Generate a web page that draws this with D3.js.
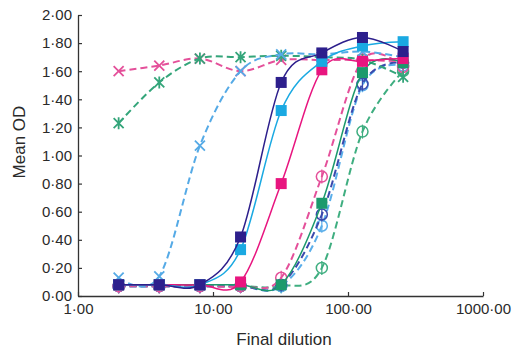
<!DOCTYPE html>
<html>
<head>
<meta charset="utf-8">
<script src="https://cdn.jsdelivr.net/npm/d3@7"></script>
<style>
  body { margin: 0; background: #fff; }
  svg { font-family: "Liberation Sans", Arial, sans-serif; }
</style>
</head>
<body>
<svg id="chart" width="525" height="350"></svg>
<script>
// dilution steps shared by all series
const dilutions = [2, 4, 8, 16, 32, 64, 128, 256];

// solid lines, filled squares
const navySquares = [0.08, 0.08, 0.08, 0.42, 1.52, 1.73, 1.84, 1.74];
const cyanSquares = [0.08, 0.08, 0.08, 0.33, 1.32, 1.67, 1.78, 1.81];
const pinkSquares = [0.08, 0.08, 0.08, 0.10, 0.80, 1.61, 1.67, 1.69];
const greenSquares = [0.08, 0.08, 0.08, 0.08, 0.08, 0.66, 1.59, 1.66];

// dashed lines, open circles
const pinkCircles = [0.07, 0.07, 0.07, 0.07, 0.13, 0.85, 1.68, 1.63];
const navyCircles = [0.07, 0.07, 0.07, 0.07, 0.08, 0.58, 1.51, 1.66];
const blueCircles = [0.07, 0.07, 0.07, 0.07, 0.07, 0.50, 1.50, 1.64];
const greenCircles = [0.07, 0.07, 0.07, 0.07, 0.07, 0.20, 1.17, 1.60];

// dashed lines, crosses
const pinkCrosses = [1.60, 1.64, 1.69, 1.60, 1.68, 1.68, 1.68, 1.67];
const greenStars = [1.23, 1.52, 1.69, 1.70, 1.71, 1.70, 1.68, 1.56];
const blueCrosses = [0.13, 0.14, 1.07, 1.60, 1.72, 1.72, 1.74, 1.70];

const yTicks = [0, 0.2, 0.4, 0.6, 0.8, 1.0, 1.2, 1.4, 1.6, 1.8, 2.0];
const xTicks = [1, 10, 100, 1000];

const series = [
  { values: greenCircles, color: "#3fae80", dash: true, marker: "circle" },
  { values: blueCircles, color: "#5aaeea", dash: true, marker: "circle" },
  { values: navyCircles, color: "#3a49ad", dash: true, marker: "circle" },
  { values: pinkCircles, color: "#e4509a", dash: true, marker: "circle" },
  { values: pinkCrosses, color: "#e4509a", dash: true, marker: "cross" },
  { values: greenStars, color: "#34a57a", dash: true, marker: "star" },
  { values: blueCrosses, color: "#55aae6", dash: true, marker: "cross" },
  { values: greenSquares, color: "#1c9a6c", dash: false, marker: "square" },
  { values: pinkSquares, color: "#e8157f", dash: false, marker: "square" },
  { values: cyanSquares, color: "#1aa9e2", dash: false, marker: "square" },
  { values: navySquares, color: "#2d1f8c", dash: false, marker: "square" }
];

const svg = d3.select("#chart");
const x = d3.scaleLog().domain([1, 1000]).range([78, 483]);
const y = d3.scaleLinear().domain([0, 2]).range([296, 15]);
const fmt = (d) => d3.format(".2f")(d).replace(".", "·");

// axes
const yAxis = svg.append("g")
  .attr("transform", `translate(${x(1)},0)`)
  .call(d3.axisLeft(y).tickValues(yTicks).tickFormat(fmt).tickSizeInner(-4).tickSizeOuter(0).tickPadding(6));
const xAxis = svg.append("g")
  .attr("transform", `translate(0,${y(0)})`)
  .call(d3.axisBottom(x).tickValues(xTicks).tickFormat(fmt).tickSizeInner(-4).tickSizeOuter(0).tickPadding(7));
[yAxis, xAxis].forEach((g) => {
  g.select(".domain").attr("stroke", "#333").attr("stroke-width", 1.3);
  g.selectAll(".tick line").attr("stroke", "#333").attr("stroke-width", 1.2);
  g.selectAll("text").attr("fill", "#2a2a2a").style("font-size", "15px");
});
xAxis.selectAll("text").attr("dy", "0.75em");

svg.append("text")
  .attr("transform", "translate(25,142) rotate(-90)")
  .attr("text-anchor", "middle")
  .attr("fill", "#2a2a2a")
  .style("font-size", "17px")
  .text("Mean OD");

svg.append("text")
  .attr("x", 284)
  .attr("y", 345)
  .attr("text-anchor", "middle")
  .attr("fill", "#2a2a2a")
  .style("font-size", "17px")
  .text("Final dilution");

// smoothed lines like a spreadsheet chart
const line = d3.line()
  .x((d) => x(d[0]))
  .y((d) => y(d[1]))
  .curve(d3.curveCardinal.tension(0));

series.forEach((s) => {
  const pts = dilutions.map((d, i) => [d, s.values[i]]);
  const g = svg.append("g");
  g.append("path")
    .attr("d", line(pts))
    .attr("fill", "none")
    .attr("stroke", s.color)
    .attr("stroke-width", s.dash ? 2 : 1.5)
    .attr("stroke-dasharray", s.dash ? "7,4" : null);

  const m = g.selectAll("g.mark")
    .data(pts)
    .join("g")
    .attr("class", "mark")
    .attr("transform", (d) => `translate(${x(d[0])},${y(d[1])})`);

  if (s.marker === "square") {
    m.append("rect")
      .attr("x", -5.5).attr("y", -5.5).attr("width", 11).attr("height", 11)
      .attr("fill", s.color);
  } else if (s.marker === "circle") {
    m.append("circle").attr("r", 5.5)
      .attr("fill", "none").attr("stroke", s.color).attr("stroke-width", 1.5);
    m.append("line").attr("y1", -7).attr("y2", 7)
      .attr("stroke", s.color).attr("stroke-width", 1.2);
  } else {
    const p = "M-5,-5L5,5M-5,5L5,-5" + (s.marker === "star" ? "M0,-6L0,6" : "");
    m.append("path").attr("d", p)
      .attr("stroke", s.color).attr("stroke-width", 1.8).attr("fill", "none");
  }
});
</script>
</body>
</html>
